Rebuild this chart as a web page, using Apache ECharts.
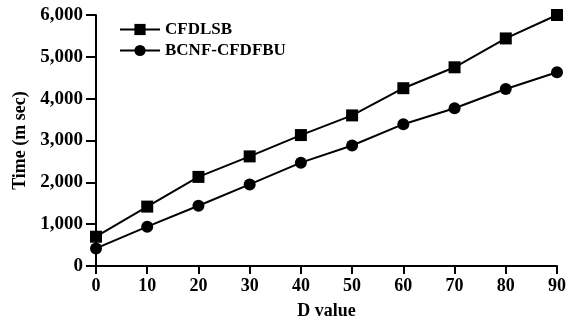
<!DOCTYPE html>
<html><head><meta charset="utf-8">
<script src="https://cdn.jsdelivr.net/npm/echarts@6/dist/echarts.min.js"></script>
<style>html,body{margin:0;padding:0;background:#fff}#c{width:568px;height:322px}</style>
</head><body><div id="c"></div>
<script>
const dValues = [0,10,20,30,40,50,60,70,80,90];
const cfdlsb = [700,1420,2130,2620,3130,3600,4250,4750,5440,6000];
const bcnf = [420,940,1440,1950,2470,2880,3390,3770,4230,4630];
const seriesNames = ['CFDLSB','BCNF-CFDFBU'];
const font = 'Liberation Serif';
const chart = echarts.init(document.getElementById('c'));
chart.setOption({
  animation:false,
  grid:{left:96,right:11,top:15,bottom:56,containLabel:false,outerBoundsMode:'none'},
  legend:{
    left:114, top:16, orient:'vertical', itemGap:4, itemWidth:40, itemHeight:14,
    textStyle:{fontFamily:font,fontSize:17,color:'#000',fontWeight:'bold'},
    data:seriesNames
  },
  xAxis:{
    type:'value',min:0,max:90,interval:10,
    name:'D value',nameLocation:'middle',nameGap:36,
    nameTextStyle:{fontFamily:font,fontSize:18,fontWeight:'bold',color:'#000'},
    axisLine:{lineStyle:{color:'#000',width:2}},
    axisTick:{lineStyle:{color:'#000',width:2},length:8},
    axisLabel:{fontFamily:font,fontSize:18,fontWeight:'bold',color:'#000',margin:11},
    splitLine:{show:false}
  },
  yAxis:{
    type:'value',min:0,max:6000,interval:1000,
    name:'Time (m sec)',nameLocation:'middle',nameGap:63,nameRotate:90,
    nameTextStyle:{fontFamily:font,fontSize:18,fontWeight:'bold',color:'#000'},
    axisLine:{show:true,lineStyle:{color:'#000',width:2}},
    axisTick:{show:true,lineStyle:{color:'#000',width:2},length:10},
    axisLabel:{fontFamily:font,fontSize:19,fontWeight:'bold',color:'#000',margin:13,
      formatter:v=>v.toLocaleString('en-US')},
    splitLine:{show:false}
  },
  series:[
    {name:seriesNames[0],type:'line',data:dValues.map((d,i)=>[d,cfdlsb[i]]),
     symbol:'rect',symbolSize:12,lineStyle:{color:'#000',width:2},itemStyle:{color:'#000'}},
    {name:seriesNames[1],type:'line',data:dValues.map((d,i)=>[d,bcnf[i]]),
     symbol:'circle',symbolSize:12,lineStyle:{color:'#000',width:2},itemStyle:{color:'#000'}}
  ]
});
</script></body></html>
